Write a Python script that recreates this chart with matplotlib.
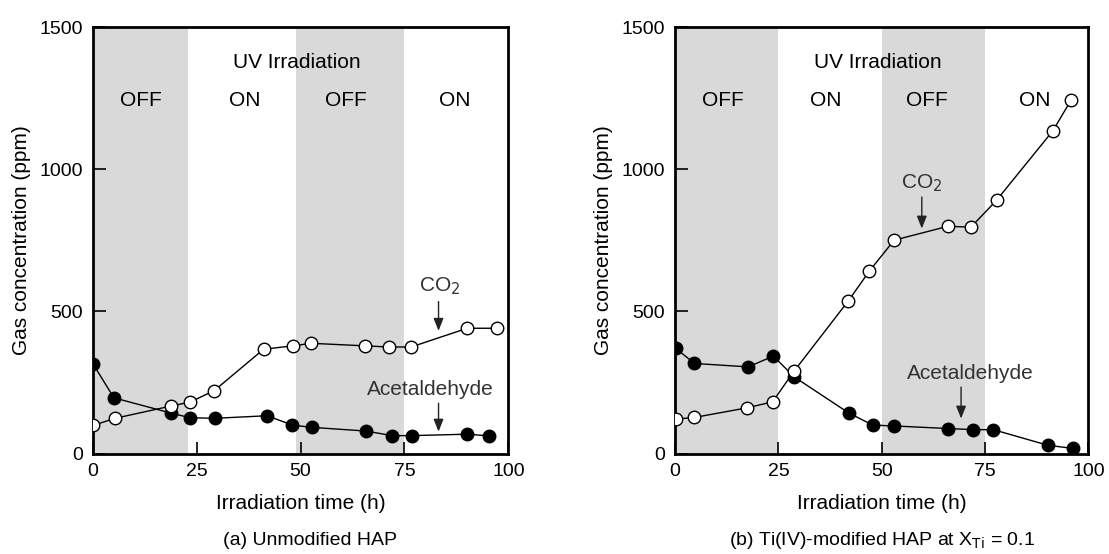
import numpy as np
import matplotlib
matplotlib.use("Agg")
import matplotlib.pyplot as plt

plt.rcParams['font.family'] = ['Liberation Sans', 'DejaVu Sans']

# (a) unmodified HAP
t_co2_a = [0.1, 5.4, 18.8, 23.4, 29.2, 41.1, 48.1, 52.6, 65.6, 71.2, 76.6, 90.1, 97.3]
co2_a = [99, 124, 167, 181, 221, 367, 379, 388, 379, 375, 375, 441, 441]
t_ald_a = [0.1, 5.1, 18.9, 23.4, 29.5, 42.0, 48.0, 52.8, 65.8, 72.0, 76.8, 90.1, 95.4]
ald_a = [315, 196, 142, 126, 124, 133, 100, 92, 79, 63, 63, 68, 62]

# (b) Ti(IV)-modified HAP
t_co2_b = [0.2, 4.7, 17.5, 23.6, 28.8, 41.9, 47.0, 53.0, 66.0, 71.6, 77.8, 91.4, 95.8]
co2_b = [121, 127, 161, 182, 290, 537, 642, 751, 800, 797, 892, 1136, 1244]
t_ald_b = [0.2, 4.7, 17.7, 23.8, 28.8, 42.0, 47.8, 53.0, 66.0, 72.0, 77.0, 90.2, 96.2]
ald_b = [370, 317, 305, 343, 270, 143, 100, 97, 88, 84, 84, 29, 18]

shade_a = [(0, 23), (49, 75)]
shade_b = [(0, 25), (50, 75)]
uv_x = [11.5, 36.5, 61, 87]
uv_lbl = ['OFF', 'ON', 'OFF', 'ON']

captions = ['(a) Unmodified HAP', '(b) Ti(IV)-modified HAP at X$_{\\mathrm{Ti}}$ = 0.1']

fig = plt.figure(figsize=(11.09, 5.54), dpi=100)
ax1 = fig.add_axes([0.0836, 0.1814, 0.3748, 0.769])
ax2 = fig.add_axes([0.6087, 0.1814, 0.3727, 0.769])

arrow = dict(arrowstyle='-|>,head_length=0.75,head_width=0.3', color='#222222',
             lw=1, shrinkA=0, shrinkB=0)


def panel(ax, t1, c1, t2, c2, shades, co2_ann, ald_ann):
    for a, b in shades:
        ax.axvspan(a, b, color='#d9d9d9', lw=0, zorder=0)
    ax.plot(t2, c2, '-o', color='black', lw=1, ms=9, mfc='black', mec='black', zorder=3)
    ax.plot(t1, c1, '-o', color='black', lw=1, ms=9, mfc='white', mec='black', mew=1, zorder=4)
    ax.set_xlim(0, 100)
    ax.set_ylim(0, 1500)
    ax.set_xticks([0, 25, 50, 75, 100])
    ax.set_yticks([0, 500, 1000, 1500])
    ax.tick_params(direction='in', length=9, width=1.2, labelsize=14, pad=7,
                   top=False, right=False)
    for s in ax.spines.values():
        s.set_linewidth(2)
    ax.set_xlabel('Irradiation time (h)', fontsize=15, labelpad=10)
    ax.set_ylabel('Gas concentration (ppm)', fontsize=15, labelpad=6)
    ax.text(49, 1375, 'UV Irradiation', ha='center', va='center', fontsize=15)
    for x, s in zip(uv_x, uv_lbl):
        ax.text(x, 1242, s, ha='center', va='center', fontsize=15)
    # annotations
    (cx, cy, ax0, ay0, ay1) = co2_ann
    ax.annotate('', xy=(ax0, ay1), xytext=(ax0, ay0), arrowprops=arrow)
    ax.text(cx, cy, 'CO$_2$', ha='center', va='center', fontsize=15, color='#333333')
    (tx, ty, bx, by0, by1) = ald_ann
    ax.annotate('', xy=(bx, by1), xytext=(bx, by0), arrowprops=arrow)
    ax.text(tx, ty, 'Acetaldehyde', ha='center', va='center', fontsize=15, color='#333333')


panel(ax1, t_co2_a, co2_a, t_ald_a, ald_a, shade_a,
      (83.6, 590, 83.2, 535, 432), (81.2, 226, 83.2, 177, 77))
panel(ax2, t_co2_b, co2_b, t_ald_b, ald_b, shade_b,
      (59.7, 951, 59.7, 903, 792), (71.4, 280, 69.2, 234, 123))

fig.text(0.2795, 0.017, captions[0], ha='center', va='baseline', fontsize=14)
fig.text(0.795, 0.017, captions[1], ha='center', va='baseline', fontsize=14)

fig.savefig('out.png', dpi=100)
